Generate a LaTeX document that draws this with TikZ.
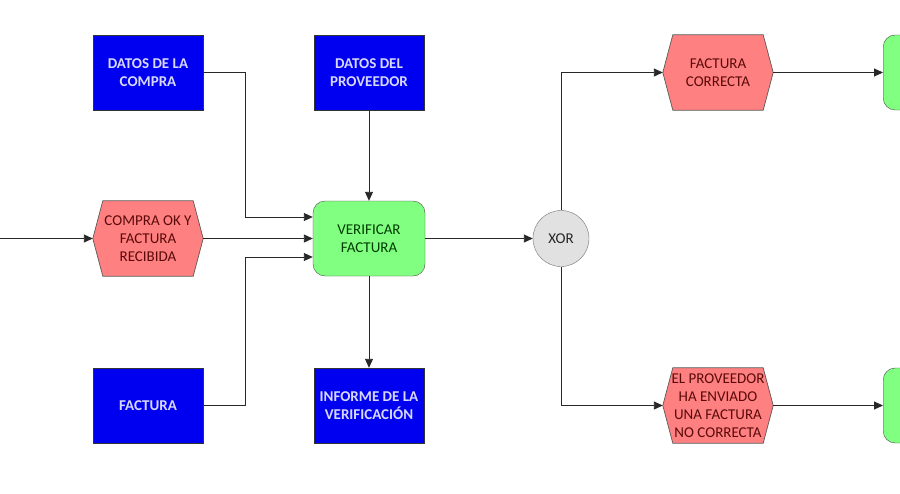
\documentclass[tikz,border=0pt]{standalone}
\usepackage{fontspec}
\setmainfont{Carlito}
\usetikzlibrary{arrows.meta,backgrounds}
\definecolor{boxblue}{RGB}{0,0,240}
\definecolor{bluetext}{RGB}{215,215,255}
\definecolor{evred}{RGB}{255,128,128}
\definecolor{evtext}{RGB}{90,10,10}
\definecolor{fngreen}{RGB}{128,255,128}
\definecolor{fntext}{RGB}{0,60,0}
\definecolor{xorgray}{RGB}{225,225,225}
\definecolor{linegray}{RGB}{40,40,40}
\tikzset{
  x=1pt,y=-1pt,
  every node/.style={font=\fontsize{15}{18}\selectfont, align=center, inner sep=0pt},
  datbox/.style={draw=black!80, fill=boxblue, text=bluetext, minimum width=110pt, minimum height=75pt, font=\fontsize{15}{18}\selectfont\bfseries},
  evbox/.style={text=evtext, minimum width=110pt, minimum height=75pt},
  evshape/.style={draw=black!65, fill=evred, line width=0.7pt},
  fnbox/.style={draw=black!70, fill=fngreen, text=fntext, rounded corners=12pt, minimum width=112pt, minimum height=75pt},
  xorc/.style={circle, draw=black!55, fill=xorgray, minimum size=56pt, text=black!85},
  conn/.style={draw=linegray, line width=0.9pt, -{Triangle[length=9pt,width=8pt]}},
}
\newcommand{\hexof}[1]{%
  \draw[evshape] (#1.west) -- ([xshift=10pt]#1.north west) -- ([xshift=-10pt]#1.north east)
    -- (#1.east) -- ([xshift=-10pt]#1.south east) -- ([xshift=10pt]#1.south west) -- cycle;}
\begin{document}
\begin{tikzpicture}
\useasboundingbox (0,0) rectangle (900,493);
\node[datbox] (dc) at (148,72.5) {DATOS DE LA\\COMPRA};
\node[datbox] (dp) at (369,72.5) {DATOS DEL\\PROVEEDOR};
\node[datbox] (fa) at (148,405.5) {FACTURA};
\node[datbox] (iv) at (369,405.5) {INFORME DE LA\\VERIFICACIÓN};
\node[evbox] (ok) at (148,238.5) {COMPRA OK Y\\FACTURA\\RECIBIDA};
\node[fnbox] (vf) at (369,238.5) {VERIFICAR\\FACTURA};
\node[xorc] (xr) at (561,238.5) {XOR};
\node[evbox] (fc) at (718,72.5) {FACTURA\\CORRECTA};
\node[evbox] (nc) at (718,405.5) {EL PROVEEDOR\\HA ENVIADO\\UNA FACTURA\\NO CORRECTA};
\node[fnbox, anchor=west] (g1) at (883,72.5) {};
\node[fnbox, anchor=west] (g2) at (883,405.5) {};
\begin{scope}[on background layer]
\fill[white] (0,0) rectangle (900,493);
\hexof{ok}\hexof{fc}\hexof{nc}
\end{scope}
\coordinate (in) at (0,238.5);
\draw[conn] (in) -- (ok.west);
\draw[conn] (ok.east) -- (vf.west);
\draw[conn] (dc.east) -| (245,217) -- (vf.west |- 0,217);
\draw[conn] (fa.east) -| (245,257) -- (vf.west |- 0,257);
\draw[conn] (dp.south) -- (vf.north);
\draw[conn] (vf.south) -- (iv.north);
\draw[conn] (vf.east) -- (xr.west);
\draw[conn] (xr.north) |- (fc.west);
\draw[conn] (xr.south) |- (nc.west);
\draw[conn] (fc.east) -- (g1.west);
\draw[conn] (nc.east) -- (g2.west);
\end{tikzpicture}
\end{document}
